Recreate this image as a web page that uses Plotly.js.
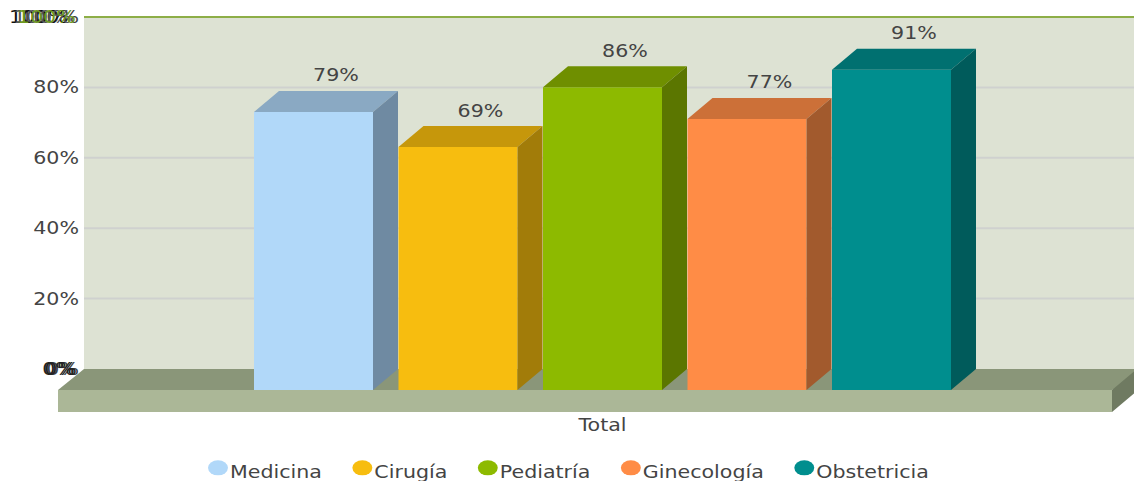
<!DOCTYPE html>
<html>
<head>
<meta charset="utf-8">
<script src="https://cdn.plot.ly/plotly-3.0.1.min.js"></script>
<style>
html,body{margin:0;padding:0;background:#fff;overflow:hidden}
#chart{width:1134px;height:481px}
</style>
</head>
<body>
<div id="chart"></div>
<script>
// Data
const seriesNames = ['Medicina','Cirugía','Pediatría','Ginecología','Obstetricia'];
const seriesValues = [79,69,86,77,91];
const frontColors = ['#B1D8F9','#F7BD0F','#8DBA00','#FF8C46','#008E8E'];
const topColors   = ['#8AA9C3','#C6970B','#6F8F00','#CC7038','#007070'];
const sideColors  = ['#6F8AA2','#A27C09','#5B7600','#A25A2D','#005B5B'];
const categoryLabel = ['Total'];
const tickValues = [0,20,40,60,80,100];
const tickLabels = ['0%','20%','40%','60%','80%','100%'];

// Scale helpers: x unit = one bar slot, y unit = one percent
const slotPx = 144.5, pctPx = 3.52;
const barW = 119/slotPx, dx = 25/slotPx, dy = 21/pctPx;
const xLeft = -255.5/slotPx, xRight = 820.5/slotPx;
const wallLeft = xLeft + 26/slotPx;
const floorFrontRight = xLeft + 1054/slotPx;
const floorDrop = 22/pctPx;
const font = 'DejaVu Sans, Verdana, sans-serif';
const fontSize = 17, textStretch = 1.21, legendGap = 52.5;
const textColor = '#444444';

const poly = pts => 'M' + pts.map(p => p[0] + ',' + p[1]).join('L') + 'Z';
const shapes = [
  {type:'path', layer:'below', xref:'x', yref:'y', line:{width:0}, fillcolor:'#DDE2D3',
   path: poly([[wallLeft,0],[wallLeft,100],[xRight,100],[xRight,0]])},
  ...tickValues.filter(v => v > 0 && v < 100).map(v => ({
    type:'line', layer:'below', xref:'x', yref:'y', x0:wallLeft, x1:xRight, y0:v, y1:v,
    line:{color:'#CFD1CF', width:2}})),
  {type:'line', layer:'below', xref:'x', yref:'y', x0:wallLeft, x1:xRight, y0:100, y1:100,
   line:{color:'#8DAE47', width:2}},
  {type:'path', layer:'below', xref:'x', yref:'y', line:{width:0}, fillcolor:'#8A9679',
   path: poly([[wallLeft,0],[xRight+dx,0],[floorFrontRight,-dy],[xLeft,-dy]])},
  {type:'path', layer:'below', xref:'x', yref:'y', line:{width:0}, fillcolor:'#ABB797',
   path: poly([[xLeft,-dy],[floorFrontRight,-dy],[floorFrontRight,-dy-floorDrop],[xLeft,-dy-floorDrop]])},
  {type:'path', layer:'below', xref:'x', yref:'y', line:{width:0}, fillcolor:'#6F7A61',
   path: poly([[floorFrontRight,-dy],[floorFrontRight+dx,0],[floorFrontRight+dx,-floorDrop],[floorFrontRight,-dy-floorDrop]])}
];

const traces = [];
seriesValues.forEach((v,i) => {
  const l = i - barW/2, r = i + barW/2;
  traces.push({type:'bar', x:[i], y:[v], base:[-dy], width:[barW], name:seriesNames[i],
    marker:{color:frontColors[i], line:{width:0}}, showlegend:false, hoverinfo:'skip'});
  traces.push({type:'scatter', mode:'lines', fill:'toself', fillcolor:topColors[i], line:{width:0},
    x:[l,l+dx,r+dx,r,l], y:[v-dy,v,v,v-dy,v-dy], showlegend:false, hoverinfo:'skip'});
  traces.push({type:'scatter', mode:'lines', fill:'toself', fillcolor:sideColors[i], line:{width:0},
    x:[r,r+dx,r+dx,r,r], y:[v-dy,v,0,-dy,v-dy], showlegend:false, hoverinfo:'skip'});
});
traces.push({type:'scatter', mode:'text', x:seriesValues.map((v,i)=>i+dx*0.9), y:seriesValues.map(v=>v+1.5),
  text:seriesValues.map(v=>v+'%'), textposition:'top center',
  textfont:{family:font,size:fontSize,color:textColor}, showlegend:false, hoverinfo:'skip'});
seriesNames.forEach((n,i) => traces.push({type:'scatter', mode:'markers', x:[null], y:[null], name:n,
  marker:{color:frontColors[i], size:15, symbol:'circle'}, hoverinfo:'skip'}));

const overlay = (text,y,shift,color) => ({xref:'x', yref:'y', x:wallLeft, y:y, text:text, xanchor:'right',
  yanchor:'middle', xshift:shift, showarrow:false, font:{family:font,size:fontSize,color:color}});

const layout = {
  width:1134, height:481, paper_bgcolor:'#fff', plot_bgcolor:'rgba(0,0,0,0)',
  margin:{l:58, r:0, t:10, b:68, pad:0, autoexpand:false},
  barmode:'overlay', dragmode:false, hovermode:false,
  font:{family:font, size:fontSize, color:textColor},
  xaxis:{type:'linear', range:[xLeft,xRight], tickmode:'array', tickvals:[2], ticktext:categoryLabel,
    showgrid:false, zeroline:false, showline:false, ticks:'', tickfont:{family:font,size:fontSize,color:textColor}},
  yaxis:{range:[-12.5,100+7/pctPx], anchor:'free', position:26/1076, tickmode:'array', tickvals:tickValues,
    ticktext:tickLabels, showgrid:false, zeroline:false, showline:false, ticks:'', ticklabelstandoff:5,
    tickfont:{family:font,size:fontSize,color:textColor}},
  shapes:shapes,
  annotations:[overlay('100%',100,-19,'#111111'),overlay('100%',100,-15,'#555555'),overlay('100%',100,-11,'#6E9A1E'),
    overlay('0%',0,-10,'#222222'),overlay('0%',0,-8,'#222222')],
  legend:{orientation:'h', x:132/1076, xanchor:'left', y:-0.1025, yanchor:'top', bgcolor:'rgba(0,0,0,0)',
    font:{family:font,size:fontSize,color:textColor}, itemclick:false, itemdoubleclick:false}
};
Plotly.newPlot('chart', traces, layout, {displayModeBar:false, staticPlot:true}).then(gd => {
  // The reference's text is horizontally stretched: widen the glyphs of every label
  gd.querySelectorAll('svg text').forEach(t => {
    const len = t.getComputedTextLength();
    if (len > 0) {
      t.setAttribute('textLength', len * textStretch);
      t.setAttribute('lengthAdjust', 'spacingAndGlyphs');
    }
  });
  // Legend keys are flattened ellipses close to their text; entries sit a fixed gap apart
  const box = gd.querySelector('.legend .scrollbox');
  if (box) { box.removeAttribute('clip-path'); box.style.clipPath = 'none'; }
  let tx = null;
  gd.querySelectorAll('.legend .traces').forEach(item => {
    const m = /translate\(([-\d.]+)[ ,]+([-\d.]+)\)/.exec(item.getAttribute('transform'));
    const label = item.querySelector('.legendtext');
    if (tx === null) tx = parseFloat(m[1]);
    item.setAttribute('transform', 'translate(' + tx + ',' + m[2] + ')');
    const textX = parseFloat(label.getAttribute('x'));
    item.querySelectorAll('path.scatterpts').forEach(p =>
      p.setAttribute('transform', 'translate(' + (textX - 12) + ',-4) scale(1.33,1)'));
    tx += parseFloat(label.getAttribute('textLength')) + legendGap;
  });
});
</script>
</body>
</html>
